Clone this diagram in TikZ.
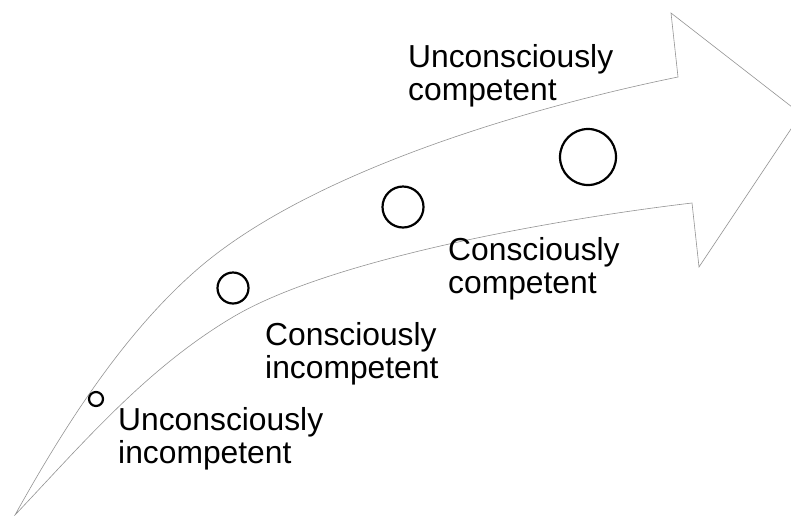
\documentclass[tikz,border=0pt]{standalone}
\usepackage{fontspec}
\setmainfont{Liberation Sans}

\begin{document}
\begin{tikzpicture}[x=1pt,y=-1pt,
  outline/.style={draw=gray!85,line width=0.6pt},
  stage/.style={circle,draw,line width=2.2pt,inner sep=0pt},
  lbl/.style={anchor=base west,align=left,inner sep=0pt,font=\fontsize{31.8}{33}\selectfont}]
  \clip (0,0) rectangle (791,515);
  % big curved arrow
  \draw[outline] (15,515) .. controls (64,427) and (124,332) .. (200,267)
    .. controls (314,170) and (531,107) .. (678,77) -- (671,13) -- (801,114)
    -- (699,267) -- (692,203) .. controls (573,217) and (336,256) .. (233,317)
    .. controls (147,368) and (84,442) .. cycle;
  % stages
  \node[stage,minimum size=14pt] (s1) at (96,399) {};
  \node[stage,minimum size=31pt] (s2) at (233,288) {};
  \node[stage,minimum size=41pt] (s3) at (403,207) {};
  \node[stage,minimum size=56pt] (s4) at (588,157) {};
  % labels (anchor sits on the last line)
  \node[lbl] (t1) at (118,463) {Unconsciously\\incompetent};
  \node[lbl] (t2) at (265,378) {Consciously\\incompetent};
  \node[lbl] (t3) at (448,293) {Consciously\\competent};
  \node[lbl] (t4) at (408,100) {Unconsciously\\competent};
\end{tikzpicture}
\end{document}
